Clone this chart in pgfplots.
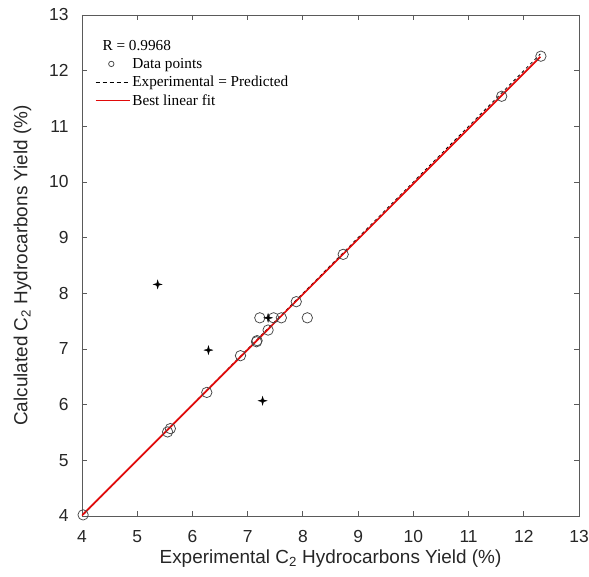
\documentclass[border=0pt]{standalone}
\usepackage{fontspec}
\setmainfont{Liberation Sans}
\setsansfont{Liberation Sans}
\newfontfamily\legfont{Liberation Serif}
\usepackage{pgfplots}
\pgfplotsset{compat=1.18}
\definecolor{framegray}{RGB}{90,90,90}
\definecolor{circgray}{RGB}{70,70,70}
\definecolor{fitred}{RGB}{225,10,10}
\pgfdeclareplotmark{star4}{%
  \pgfpathmoveto{\pgfqpoint{0pt}{\pgfplotmarksize}}%
  \pgfpathlineto{\pgfqpoint{0.22\pgfplotmarksize}{0.22\pgfplotmarksize}}%
  \pgfpathlineto{\pgfqpoint{\pgfplotmarksize}{0pt}}%
  \pgfpathlineto{\pgfqpoint{0.22\pgfplotmarksize}{-0.22\pgfplotmarksize}}%
  \pgfpathlineto{\pgfqpoint{0pt}{-\pgfplotmarksize}}%
  \pgfpathlineto{\pgfqpoint{-0.22\pgfplotmarksize}{-0.22\pgfplotmarksize}}%
  \pgfpathlineto{\pgfqpoint{-\pgfplotmarksize}{0pt}}%
  \pgfpathlineto{\pgfqpoint{-0.22\pgfplotmarksize}{0.22\pgfplotmarksize}}%
  \pgfpathclose
  \pgfusepathqfillstroke}
\begin{document}
\begin{tikzpicture}
\begin{axis}[
  scale only axis,
  width=497bp, height=501bp,
  xmin=4, xmax=13, ymin=4, ymax=13,
  xtick={4,5,...,13}, ytick={4,5,...,13},
  tick align=inside,
  major tick length=5bp,
  axis line style={framegray, line width=0.9bp},
  every tick/.style={framegray, line width=0.8bp},
  /pgf/number format/assume math mode=true,
  tick label style={font=\fontsize{17.5}{17.5}\selectfont, text=black!85},
  xticklabel style={yshift=-11bp},
  yticklabel style={xshift=-10bp},
  label style={font=\fontsize{19}{19}\selectfont, text=black!85},
  xlabel={Experimental C\textsubscript{2} Hydrocarbons Yield (\%)},
  ylabel={Calculated C\textsubscript{2} Hydrocarbons Yield (\%)},
  ylabel shift=11bp,
  legend style={at={(rel axis cs:0.02,0.958)}, anchor=north west, draw=none, fill=none,
    font=\legfont\fontsize{15.3}{15.3}\selectfont, row sep=2.3bp,
    legend cell align=left},
]
\coordinate (O) at (rel axis cs:0,0);
\coordinate (T) at (rel axis cs:1,1);
\addlegendimage{empty legend}
\addlegendentry{\hspace{-1.05cm}R = 0.9968}
\addplot[only marks, mark=o, mark size=5.2bp, draw=circgray, line width=0.75bp,
  legend image code/.code={\draw[draw=circgray, line width=0.75bp] (0.55cm,0cm) circle (2.7bp);}]
coordinates {
(4.02,4.02) (5.55,5.51) (5.60,5.57) (6.26,6.22) (6.87,6.88) (7.16,7.13) (7.17,7.15)
(7.37,7.34) (7.22,7.56) (7.47,7.56) (7.61,7.56) (8.08,7.56) (7.88,7.85)
(8.73,8.70) (11.60,11.54) (12.31,12.26)
};
\addlegendentry{Data points}
\addplot[black, dashed, line width=0.8bp,
  legend image code/.code={\draw[draw=black, line width=1bp, dash pattern=on 4bp off 3bp] (0cm,0cm) -- (1.2cm,0cm);}]
coordinates {(3.96,3.96) (12.30,12.30)};
\addlegendentry{Experimental = Predicted}
\addplot[draw=fitred, line width=1.7bp,
  legend image code/.code={\draw[draw=fitred, solid, line width=1.2bp] (0cm,0cm) -- (1.2cm,0cm);}]
coordinates {(3.97,3.98) (12.30,12.25)};
\addlegendentry{Best linear fit}
\addplot[only marks, mark=star4, mark size=4.3bp, black, forget plot]
coordinates {(5.37,8.16) (6.29,6.98) (7.27,6.07) (7.37,7.56)};
\end{axis}
\pgfresetboundingbox
\path[use as bounding box] ([shift={(-82bp,-61bp)}]O) rectangle ([shift={(10bp,15bp)}]T);
\end{tikzpicture}
\end{document}
